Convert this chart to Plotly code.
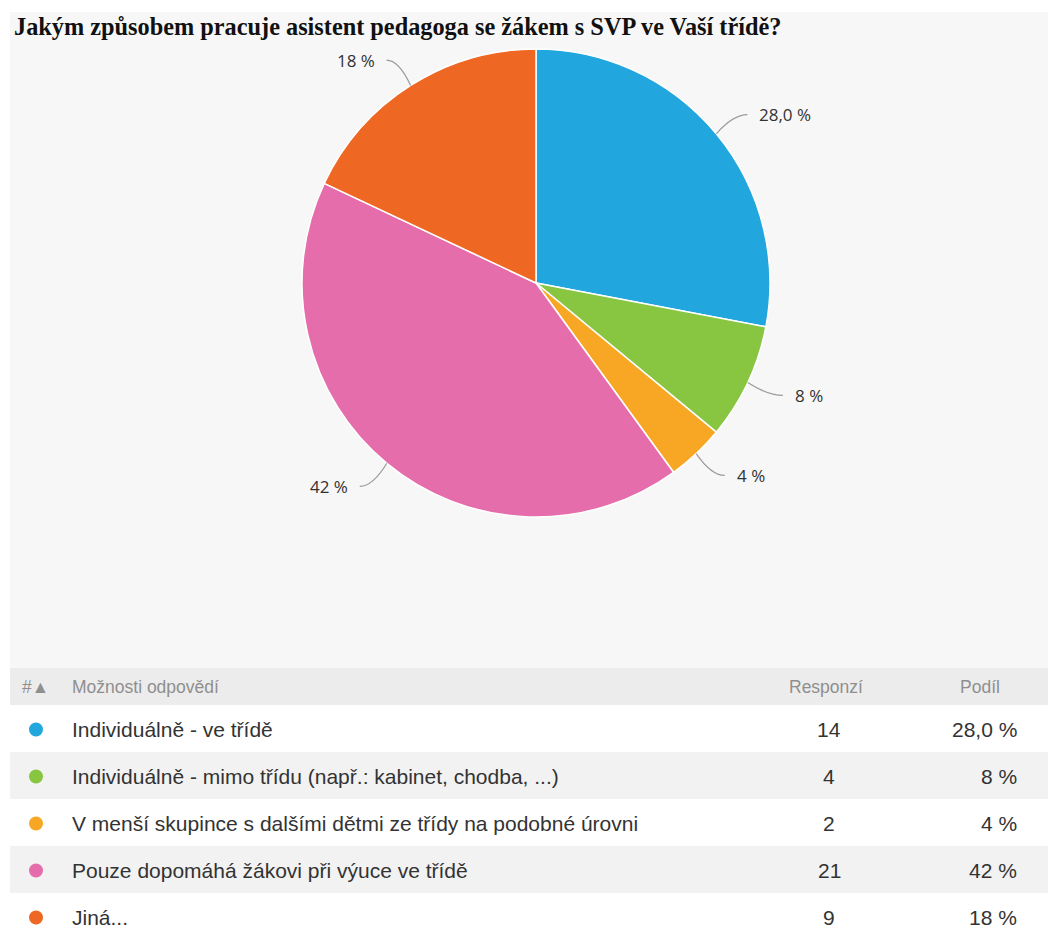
import math
import plotly.graph_objects as go

# Survey question and answers
title = "Jakým způsobem pracuje asistent pedagoga se žákem s SVP ve Vaší třídě?"
answers = [
    "Individuálně - ve třídě",
    "Individuálně - mimo třídu (např.: kabinet, chodba, ...)",
    "V menší skupince s dalšími dětmi ze třídy na podobné úrovni",
    "Pouze dopomáhá žákovi při výuce ve třídě",
    "Jiná...",
]
responses = [14, 4, 2, 21, 9]
share_labels = ["28,0 %", "8 %", "4 %", "42 %", "18 %"]
colors = ["#21a6de", "#88c540", "#f8a724", "#e56dab", "#ee6723"]
header = ["#▲", "Možnosti odpovědí", "Responzí", "Podíl"]

W, H = 1048, 931
CX, CY, R = 536, 283, 234          # pie centre and radius in pixels
LABEL_FONT = dict(family="Open Sans, Noto Sans, sans-serif", size=17, color="#333333")

fig = go.Figure()

# pie
fig.add_trace(go.Pie(
    values=responses,
    labels=answers,
    sort=False,
    direction="clockwise",
    rotation=0,
    marker=dict(colors=colors, line=dict(color="#ffffff", width=1.5)),
    textinfo="none",
    hoverinfo="label+value+percent",
    showlegend=False,
    domain=dict(x=[(CX - R) / W, (CX + R) / W],
                y=[(H - CY - R) / H, (H - CY + R) / H]),
))

shapes = []
annotations = []

# background panel
shapes.append(dict(type="rect", xref="x", yref="y", x0=10, x1=W, y0=12, y1=H,
                   fillcolor="#f7f7f7", line=dict(width=0), layer="below"))

# outside labels with curved connectors, placed from slice mid-angles
total = sum(responses)
start = 0.0
for v, lab in zip(responses, share_labels):
    frac = v / total
    mid = (start + frac / 2) * 2 * math.pi
    start += frac
    sx, sy = math.sin(mid), -math.cos(mid)
    ex, ey = CX + R * sx, CY + R * sy
    kx, ky = CX + (R + 22) * sx, CY + (R + 22) * sy
    ly = CY + (R + 30) * sy
    side = 1 if sx >= 0 else -1
    bx = CX + (R + 30) * sx + side * 8
    shapes.append(dict(type="path", xref="x", yref="y",
                       path=f"M {ex:.1f},{ey:.1f} Q {kx:.1f},{ly:.1f} {bx:.1f},{ly:.1f}",
                       line=dict(color="#9a9a9a", width=1.2)))
    annotations.append(dict(x=bx + side * 10, y=ly, xref="x", yref="y", text=lab,
                            showarrow=False, font=LABEL_FONT,
                            xanchor="left" if side > 0 else "right", yanchor="middle"))

# title
annotations.append(dict(x=12, y=26, xref="x", yref="y", text=f"<b>{title}</b>",
                        showarrow=False, xanchor="left", yanchor="middle",
                        font=dict(family="Liberation Serif, Times New Roman, serif",
                                  size=24.3, color="#111111")))

# table header
HEAD_TOP, HEAD_H, ROW_H = 668, 37, 47
shapes.append(dict(type="rect", xref="x", yref="y", x0=10, x1=W, y0=HEAD_TOP,
                   y1=HEAD_TOP + HEAD_H, fillcolor="#ececec", line=dict(width=0), layer="below"))
hy = HEAD_TOP + HEAD_H / 2
head_font = dict(family="Liberation Sans, Arial, sans-serif", size=17.5, color="#8f8f8f")
annotations.append(dict(x=20, y=hy, xref="x", yref="y", text=header[0], showarrow=False,
                        xanchor="left", yanchor="middle", font=head_font))
annotations.append(dict(x=70, y=hy, xref="x", yref="y", text=header[1], showarrow=False,
                        xanchor="left", yanchor="middle", font=head_font))
annotations.append(dict(x=826, y=hy, xref="x", yref="y", text=header[2], showarrow=False,
                        xanchor="center", yanchor="middle", font=head_font))
annotations.append(dict(x=980, y=hy, xref="x", yref="y", text=header[3], showarrow=False,
                        xanchor="center", yanchor="middle", font=head_font))

# table rows
body_font = dict(family="Liberation Sans, Arial, sans-serif", size=21, color="#333333")
for i, (ans, n, lab, col) in enumerate(zip(answers, responses, share_labels, colors)):
    top = HEAD_TOP + HEAD_H + i * ROW_H
    fill = "#ffffff" if i % 2 == 0 else "#f2f2f2"
    shapes.append(dict(type="rect", xref="x", yref="y", x0=10, x1=W, y0=top,
                       y1=top + ROW_H, fillcolor=fill, line=dict(width=0), layer="below"))
    yc = top + ROW_H / 2 + 1
    shapes.append(dict(type="circle", xref="x", yref="y", x0=29, x1=43, y0=yc - 7,
                       y1=yc + 7, fillcolor=col, line=dict(width=0)))
    annotations.append(dict(x=70, y=yc, xref="x", yref="y", text=ans, showarrow=False,
                            xanchor="left", yanchor="middle", font=body_font))
    annotations.append(dict(x=829, y=yc, xref="x", yref="y", text=str(n), showarrow=False,
                            xanchor="center", yanchor="middle", font=body_font))
    annotations.append(dict(x=1019, y=yc, xref="x", yref="y", text=lab, showarrow=False,
                            xanchor="right", yanchor="middle", font=body_font))

fig.update_layout(
    width=W, height=H,
    margin=dict(l=0, r=0, t=0, b=0),
    paper_bgcolor="#ffffff",
    plot_bgcolor="rgba(0,0,0,0)",
    xaxis=dict(range=[0, W], visible=False, fixedrange=True),
    yaxis=dict(range=[H, 0], visible=False, fixedrange=True),
    shapes=shapes,
    annotations=annotations,
)

fig.write_html("out.html")
